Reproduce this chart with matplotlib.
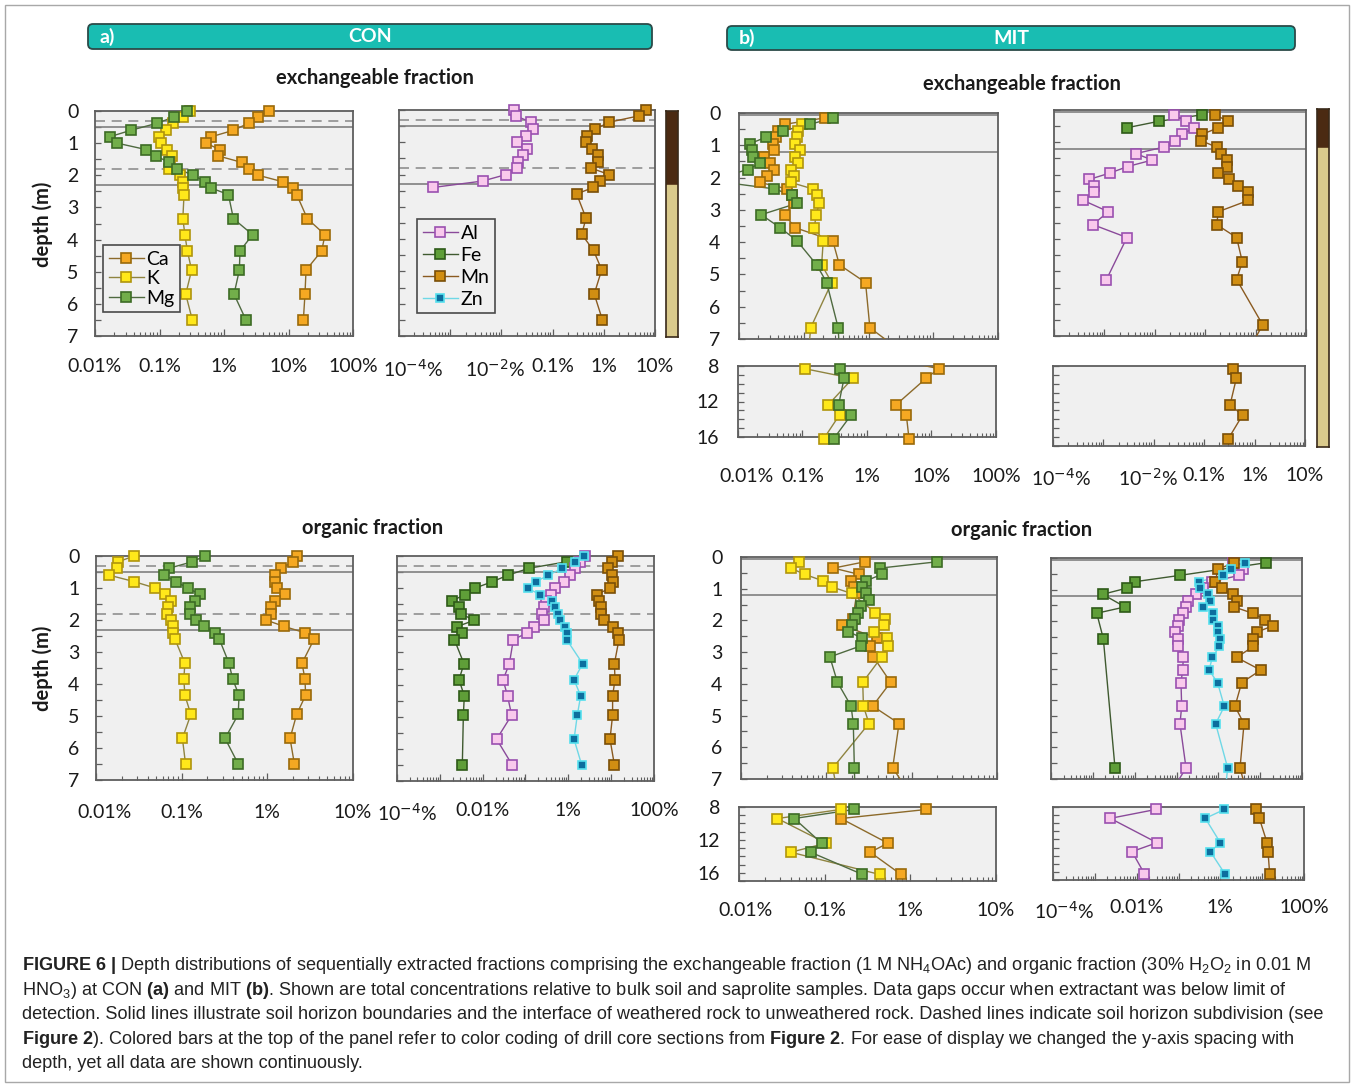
import numpy as np
import matplotlib
matplotlib.use("Agg")
import matplotlib.pyplot as plt
import matplotlib.ticker as mtick
from matplotlib import font_manager
from matplotlib.lines import Line2D
from matplotlib.patches import FancyBboxPatch, Rectangle
from matplotlib.transforms import IdentityTransform, ScaledTranslation

nan = np.nan

# ---- sample depths (m) ----
con_depth = [0.0, 0.18, 0.38, 0.6, 0.8, 1.0, 1.2, 1.4, 1.6, 1.8, 2.0, 2.2, 2.4, 2.6,
             3.35, 3.85, 4.35, 4.95, 5.7, 6.5]
mit_depth = [0.15, 0.35, 0.55, 0.75, 0.95, 1.15, 1.35, 1.55, 1.75, 1.95, 2.15, 2.35, 2.55,
             2.8, 3.15, 3.55, 3.95, 4.7, 5.25, 6.65, 8.3, 9.4, 12.4, 13.5, 16.2]

# ---- CON exchangeable fraction (% of bulk) ----
con_ex_ca = [4.9, 3.4, 2.4, 1.4, 0.64, 0.52, 0.87, 0.82, 1.9, 2.4, 3.4, 8.1, 11.6, 13.4,
             19.6, 36.8, 32.7, 18.7, 18.0, 17.0]
con_ex_k = [0.30, 0.23, 0.16, 0.126, 0.099, 0.105, 0.132, 0.154, 0.146, 0.142, 0.208, 0.234,
            0.234, 0.24, 0.23, 0.248, 0.27, 0.315, 0.255, 0.323]
con_ex_mg = [0.264, 0.17, 0.092, 0.036, 0.017, 0.022, 0.062, 0.088, 0.142, 0.189, 0.335, 0.51,
             0.64, 1.17, 1.40, 2.78, 1.77, 1.73, 1.43, 2.19]
con_ex_al = [0.018, 0.019, 0.038, 0.042, 0.030, 0.020, 0.031, 0.026, 0.021, 0.020, 0.0123,
             0.0043, 0.00046, nan, nan, nan, nan, nan, nan, nan]
con_ex_mn = [6.7, 4.9, 1.26, 0.67, 0.48, 0.44, 0.60, 0.78, 0.78, 0.56, 1.28, 0.84, 0.62,
             0.295, 0.45, 0.37, 0.63, 0.91, 0.65, 0.94]

# ---- CON organic fraction ----
con_or_ca = [2.24, 1.98, 1.43, 1.23, 1.23, 1.29, 1.61, 1.23, 1.09, 1.09, 0.96, 1.57, 2.75,
             3.51, 2.54, 2.75, 2.80, 2.20, 1.84, 2.07]
con_or_k = [0.0278, 0.0182, 0.0177, 0.0143, 0.0278, 0.0489, 0.0639, 0.0744, 0.070, 0.0668,
            0.0744, 0.080, 0.080, 0.0836, 0.109, 0.106, 0.109, 0.128, 0.102, 0.111]
con_or_mg = [0.187, 0.133, 0.0718, 0.0628, 0.0859, 0.1175, 0.164, 0.143, 0.125, 0.125, 0.146,
             0.182, 0.245, 0.275, 0.357, 0.394, 0.467, 0.458, 0.321, 0.458]
con_or_al = [2.4, 1.9, 1.4, 1.1, 0.79, 0.49, 0.39, 0.30, 0.275, 0.24, 0.275, 0.16, 0.106,
             0.052, 0.042, 0.030, 0.038, 0.0475, 0.0212, 0.049]
con_or_fe = [nan, 0.914, 0.121, 0.0384, 0.0168, 0.0066, 0.00387, 0.00189, 0.0028, 0.00312,
             0.00638, 0.00247, 0.00335, 0.00218, 0.00366, 0.0028, 0.00373, 0.00354, nan, 0.00335]
con_or_mn = [14.2, 10.3, 8.3, 10.6, 10.8, 9.4, 4.58, 5.2, 5.8, 5.8, 6.9, 10.8, 14.7, 15.2,
             11.9, 12.3, 10.8, 10.8, 9.4, 11.9]
con_or_zn = [2.32, 1.43, 0.724, 0.341, 0.173, 0.112, 0.218, 0.408, 0.489, 0.585, 0.638, 0.836,
             0.914, 0.914, 2.16, 1.36, 1.94, 1.62, 1.36, 2.05]

# ---- MIT exchangeable fraction ----
mit_ex_ca = [0.213, 0.051, 0.040, 0.037, 0.034, 0.035, 0.024, 0.030, 0.035, 0.027, 0.021,
             0.055, 0.065, 0.07, 0.051, 0.073, 0.28, 0.355, 0.90, 1.05, 13.0, 8.2, 2.79, 4.07, 4.48]
mit_ex_k = [nan, 0.093, 0.082, 0.080, 0.072, 0.086, 0.073, 0.082, 0.063, 0.071, 0.063, 0.137,
            0.158, 0.174, 0.155, 0.146, 0.20, 0.189, 0.27, 0.128, 0.108, 0.60, 0.248, 0.376, 0.213]
mit_ex_mg = [0.286, 0.125, 0.048, 0.026, 0.0148, 0.0161, 0.0163, 0.021, 0.0139, 0.006, 0.006,
             0.035, 0.067, 0.078, 0.022, 0.043, 0.078, 0.158, 0.226, 0.34, 0.376, 0.44, 0.363,
             0.57, 0.304]
mit_ex_al = [0.024, 0.042, 0.060, 0.035, 0.025, 0.015, 0.0042, 0.0089, 0.0029, 0.0013, 0.0005,
             0.00062, 0.00062, 0.00038, 0.0012, 0.00059, 0.0028, nan, 0.0011, nan, nan, nan,
             nan, nan, nan]
mit_ex_fe = [0.085, 0.012, 0.0028] + [nan] * 22
mit_ex_mn = [0.156, 0.288, 0.182, 0.0878, 0.0826, 0.169, 0.203, 0.267, 0.267, 0.177, 0.30,
             0.454, 0.717, 0.717, 0.182, 0.169, 0.42, 0.545, 0.42, 1.38, 0.372, 0.434, 0.325,
             0.58, 0.30]

# ---- MIT organic fraction ----
mit_or_ca = [0.284, 0.121, 0.244, 0.193, 0.211, 0.227, nan, nan, nan, 0.204, 0.151, nan, 0.389,
             0.325, 0.356, nan, 0.567, 0.349, 0.711, 0.599, 1.54, 0.155, 0.547, 0.34, 0.778]
mit_or_k = [0.0483, 0.0382, 0.0562, 0.0906, 0.1175, 0.198, nan, nan, 0.372, 0.486, 0.478, 0.362,
            0.519, 0.533, 0.445, nan, 0.267, 0.272, 0.316, 0.119, 0.154, 0.0281, 0.104, 0.0403,
            0.437]
mit_or_mg = [2.0, 0.426, 0.445, 0.292, 0.259, 0.289, 0.319, 0.252, 0.237, 0.217, 0.198, 0.181,
             0.259, 0.255, 0.11, nan, 0.135, 0.195, 0.207, 0.213, 0.221, 0.0442, 0.0922, 0.0686,
             0.276]
mit_or_al = [2.29, 3.96, 3.18, 0.693, 0.438, 0.292, 0.192, 0.169, 0.146, 0.115, 0.107, 0.092,
             0.111, 0.111, 0.146, 0.140, 0.128, 0.133, 0.121, 0.169, 0.029, 0.00234, 0.0306,
             0.00773, 0.0152]
mit_or_fe = [13.8, nan, 0.121, 0.0102, 0.00668, 0.00172, nan, 0.00587, 0.00124, nan, nan, nan,
             0.00178, nan, nan, nan, nan, nan, nan, 0.00339, nan, nan, nan, nan, nan]
mit_or_mn = [2.37, 1.0, nan, 0.83, 1.20, 2.20, 2.74, 2.37, 6.6, 13.1, 19.9, 8.24, 6.6, 6.87,
             2.74, 10.3, 3.61, 2.50, 4.11, 3.30, 7.13, 8.56, 13.1, 13.8, 15.1]
mit_or_zn = [4.33, 1.97, 1.27, 0.352, 0.365, 0.577, 0.633, 0.438, 0.759, 0.759, 0.96, 1.0, 1.10,
             1.06, 0.72, 0.60, 0.96, 1.39, 0.863, 1.67, 1.25, 0.438, 1.0, 0.577, 1.27]

# horizon boundaries (m)
con_solid = [0.5, 2.3]
con_dashed = [0.3, 1.8]
mit_solid = [0.07, 1.2]

lab_a = ["0.01%", "0.1%", "1%", "10%", "100%"]
lab_b = ["10$^{-4}$%", "", "10$^{-2}$%", "0.1%", "1%", "10%"]
lab_c = ["0.01%", "0.1%", "1%", "10%"]
lab_d = ["10$^{-4}$%", "", "0.01%", "", "1%", "", "100%"]

styles = {
    "Ca": dict(mfc="#F5A822", mec="#9A6A0A", lc="#8C6A2A", ms=7.2),
    "K": dict(mfc="#FFE81A", mec="#B0950C", lc="#8F8440", ms=7.2),
    "Mg": dict(mfc="#72AE4A", mec="#3D6B25", lc="#4F6A40", ms=7.2),
    "Al": dict(mfc="#F9C9EC", mec="#9A50B0", lc="#8A4A9A", ms=7.2),
    "Fe": dict(mfc="#5F9E38", mec="#2E5A18", lc="#3F5A30", ms=7.2),
    "Mn": dict(mfc="#D18E12", mec="#7A4F08", lc="#8A5A20", ms=7.2),
    "Zn": dict(mfc="#0D6E9E", mec="#55E0EE", lc="#6FD8E6", ms=6.4),
}

W, H = 1355, 1085
installed = {f.name for f in font_manager.fontManager.ttflist}
if "Liberation Sans Narrow" in installed:
    cap_font, cap_size = "Liberation Sans Narrow", 13.3
else:
    cap_font, cap_size = "Liberation Sans", 13.1

plt.rcParams["font.family"] = ["Lato", "DejaVu Sans"]
plt.rcParams["mathtext.rm"] = cap_font
plt.rcParams["mathtext.bf"] = cap_font + ":bold"
plt.rcParams["mathtext.it"] = cap_font + ":italic"

fig = plt.figure(figsize=(W / 100, H / 100), dpi=100)


def add_ax(x0, y0, x1, y1):
    return fig.add_axes([x0 / W, 1 - y1 / H, (x1 - x0) / W, (y1 - y0) / H])


def panel(box, xlim, ylim, xlabels=None, ylabels=True, deep=False, xpad=15, ypad=12,
          label_dx=None):
    ax = add_ax(*box)
    ax.set_facecolor("#F0F0F0")
    ax.set_xscale("log")
    ax.set_xlim(*xlim)
    ax.set_ylim(*ylim)
    for sp in ax.spines.values():
        sp.set_color("#5E5E5E")
        sp.set_linewidth(1.3)
    decades = 10.0 ** np.arange(round(np.log10(xlim[0])), round(np.log10(xlim[1])) + 1)
    ax.set_xticks(decades)
    ax.set_xticklabels(xlabels if xlabels else [""] * len(decades))
    ax.xaxis.set_minor_locator(mtick.LogLocator(base=10, subs=np.arange(2, 10), numticks=40))
    ax.xaxis.set_minor_formatter(mtick.NullFormatter())
    if deep:
        ax.yaxis.set_major_locator(mtick.FixedLocator(np.arange(8, int(ylim[0]) + 1)))
        ax.yaxis.set_major_formatter(
            mtick.FuncFormatter(lambda v, p: f"{v:.0f}" if v in (8, 12, 16) else ""))
    else:
        ax.yaxis.set_major_locator(mtick.MultipleLocator(1))
        ax.yaxis.set_minor_locator(mtick.MultipleLocator(0.5))
    ax.tick_params(axis="x", which="major", direction="in", length=5, width=0.9,
                   color="#5E5E5E", pad=xpad, labelsize=14, labelcolor="#1A1A1A")
    ax.tick_params(axis="x", which="minor", direction="in", length=3, width=0.8,
                   color="#5E5E5E")
    ax.tick_params(axis="y", which="both", direction="in", length=4, width=0.9,
                   color="#5E5E5E", pad=ypad, labelsize=14, labelcolor="#1A1A1A",
                   labelleft=ylabels)
    # nudge single tick labels sideways, as they sit in the original
    labs = ax.get_xticklabels()
    for i, dx in (label_dx or {}).items():
        labs[i].set_transform(labs[i].get_transform()
                              + ScaledTranslation(dx / 100, 0, fig.dpi_scale_trans))
    return ax


def draw(ax, depth, values, el):
    st = styles[el]
    d = np.asarray(depth, float)
    v = np.asarray(values, float)
    ok = ~np.isnan(v)
    ax.plot(v[ok], d[ok], color=st["lc"], lw=1.0, zorder=3)
    lo, hi = sorted(ax.get_ylim())
    x0, x1 = ax.get_xlim()
    vis = ok & (d >= lo - 0.3) & (d <= hi + 0.3) & (v >= x0) & (v <= x1)
    ax.plot(v[vis], d[vis], ls="none", marker="s", ms=st["ms"], mfc=st["mfc"],
            mec=st["mec"], mew=1.2, clip_on=False, zorder=4)


def horizons(ax, solid, dashed=()):
    for y in solid:
        ax.axhline(y, color="#808080", lw=1.2, zorder=2)
    for y in dashed:
        ax.axhline(y, color="#8F8F8F", lw=1.2, ls=(0, (6, 4)), zorder=2)


def legend(ax, els, anchor, spacing):
    hs = [Line2D([], [], color=styles[e]["lc"], lw=1, marker="s", ms=styles[e]["ms"],
                 mfc=styles[e]["mfc"], mec=styles[e]["mec"], mew=1.2) for e in els]
    lg = ax.legend(hs, els, loc="lower left", bbox_to_anchor=anchor, frameon=True,
                   fancybox=False, framealpha=1, edgecolor="#4A4A4A", facecolor="#F0F0F0",
                   fontsize=14, handlelength=1.8, handletextpad=0.15, borderpad=0.3,
                   labelspacing=spacing, borderaxespad=0)
    lg.get_frame().set_linewidth(1.2)
    lg.set_zorder(6)


def depth_bar(box, dark_frac):
    bx = add_ax(*box)
    bx.set_xlim(0, 1)
    bx.set_ylim(1, 0)
    bx.axhspan(0, dark_frac, color="#4B2A12")
    bx.axhspan(dark_frac, 1, color="#DACA8C")
    bx.set_xticks([])
    bx.set_yticks([])
    for sp in bx.spines.values():
        sp.set_color("#3A2A1A")
        sp.set_linewidth(1.2)


def header(x0, y0, x1, y1, tag, name):
    box = FancyBboxPatch((x0, H - y1), x1 - x0, y1 - y0,
                         boxstyle="round,pad=0,rounding_size=5",
                         transform=IdentityTransform(), fc="#19BDB2", ec="#2B4A48", lw=1.3)
    fig.add_artist(box)
    yc = 1 - (y0 + y1) / 2 / H
    fig.text((x0 + 12) / W, yc, tag, color="white", fontsize=14, weight="bold",
             ha="left", va="center")
    fig.text((x0 + x1) / 2 / W, yc, name, color="white", fontsize=14, weight="bold",
             ha="center", va="center")


def ftext(x, y, s, **kw):
    fig.text(x / W, 1 - y / H, s, **kw)


# outer frame
fig.add_artist(Rectangle((5, 3), 1344, 1077, fill=False, ec="#A8A8A8", lw=1,
                         transform=IdentityTransform()))

header(88, 24, 652, 49, "a)", "CON")
header(727, 26, 1295, 50, "b)", "MIT")

title_kw = dict(fontsize=14.5, weight="bold", ha="center", va="center", color="#1A1A1A")
ftext(375, 78, "exchangeable fraction", **title_kw)
ftext(1022, 84, "exchangeable fraction", **title_kw)
ftext(373, 528, "organic fraction", **title_kw)
ftext(1022, 530, "organic fraction", **title_kw)
ftext(43, 224, "depth (m)", fontsize=14.5, weight="bold", rotation=90, ha="center",
      va="center", color="#1A1A1A")
ftext(43, 668, "depth (m)", fontsize=14.5, weight="bold", rotation=90, ha="center",
      va="center", color="#1A1A1A")

# ---- a) CON exchangeable ----
ax = panel((95, 111, 353, 336), (0.01, 100), (7, 0), lab_a, xpad=16)
horizons(ax, con_solid, con_dashed)
draw(ax, con_depth, con_ex_ca, "Ca")
draw(ax, con_depth, con_ex_k, "K")
draw(ax, con_depth, con_ex_mg, "Mg")
legend(ax, ["Ca", "K", "Mg"], (0.03, 0.105), 0.12)

ax = panel((399, 110, 655, 336), (1e-4, 10), (7, 0), lab_b, ylabels=False, xpad=16,
           label_dx={0: 14, 2: -6})
horizons(ax, con_solid, con_dashed)
draw(ax, con_depth, con_ex_al, "Al")
draw(ax, con_depth, con_ex_mn, "Mn")
legend(ax, ["Al", "Fe", "Mn", "Zn"], (0.07, 0.10), 0.25)
depth_bar((666, 111, 678, 337), con_solid[1] / 7)

# ---- a) CON organic ----
ax = panel((96, 556, 353, 780), (0.01, 10), (7, 0), lab_c, xpad=17, label_dx={0: 8})
horizons(ax, con_solid, con_dashed)
draw(ax, con_depth, con_or_ca, "Ca")
draw(ax, con_depth, con_or_k, "K")
draw(ax, con_depth, con_or_mg, "Mg")

ax = panel((397, 556, 654, 781), (1e-4, 100), (7, 0), lab_d, ylabels=False, xpad=15,
           label_dx={0: 10})
horizons(ax, con_solid, con_dashed)
draw(ax, con_depth, con_or_fe, "Fe")
draw(ax, con_depth, con_or_al, "Al")
draw(ax, con_depth, con_or_mn, "Mn")
draw(ax, con_depth, con_or_zn, "Zn")

# ---- b) MIT exchangeable ----
for box, ylim, labs, deep, pad in [((739, 113, 998, 339), (7, 0), None, False, 15),
                                   ((738, 366, 996, 437), (16, 8), lab_a, True, 22)]:
    ax = panel(box, (0.01, 100), ylim, labs, deep=deep, xpad=pad, ypad=13.5,
               label_dx={0: 9} if deep else None)
    if not deep:
        horizons(ax, mit_solid)
    draw(ax, mit_depth, mit_ex_ca, "Ca")
    draw(ax, mit_depth, mit_ex_k, "K")
    draw(ax, mit_depth, mit_ex_mg, "Mg")

for box, ylim, labs, deep, pad in [((1054, 110, 1306, 336), (7, 0), None, False, 15),
                                   ((1053, 366, 1305, 446), (17, 8), lab_b, True, 15)]:
    ax = panel(box, (1e-4, 10), ylim, labs, ylabels=False, deep=deep, xpad=pad,
               label_dx={0: 8, 2: -6} if deep else None)
    if not deep:
        horizons(ax, mit_solid)
    draw(ax, mit_depth, mit_ex_al, "Al")
    draw(ax, mit_depth, mit_ex_fe, "Fe")
    draw(ax, mit_depth, mit_ex_mn, "Mn")
depth_bar((1317, 109, 1329, 447), (148 - 109) / (447 - 109))

# ---- b) MIT organic ----
for box, ylim, labs, deep, pad in [((741, 557, 997, 779), (7, 0), None, False, 15),
                                   ((739, 807, 996, 881), (17, 8), lab_c, True, 15)]:
    ax = panel(box, (0.01, 10), ylim, labs, deep=deep, xpad=pad, ypad=13.5,
               label_dx={0: 6} if deep else None)
    if not deep:
        horizons(ax, mit_solid)
    draw(ax, mit_depth, mit_or_ca, "Ca")
    draw(ax, mit_depth, mit_or_k, "K")
    draw(ax, mit_depth, mit_or_mg, "Mg")

for box, ylim, labs, deep, pad in [((1051, 558, 1302, 779), (7, 0), None, False, 15),
                                   ((1053, 807, 1304, 880), (17, 8), lab_d, True, 14)]:
    ax = panel(box, (1e-4, 100), ylim, labs, ylabels=False, deep=deep, xpad=pad,
               label_dx={0: 11} if deep else None)
    if not deep:
        horizons(ax, mit_solid)
    draw(ax, mit_depth, mit_or_fe, "Fe")
    draw(ax, mit_depth, mit_or_al, "Al")
    draw(ax, mit_depth, mit_or_mn, "Mn")
    draw(ax, mit_depth, mit_or_zn, "Zn")

# ---- caption ----
caption = [
    r"$\mathbf{FIGURE\ 6\ |}$ Depth distributions of sequentially extracted fractions comprising "
    r"the exchangeable fraction (1 M NH$_4$OAc) and organic fraction (30% H$_2$O$_2$ in 0.01 M",
    r"HNO$_3$) at CON $\mathbf{(a)}$ and MIT $\mathbf{(b)}$. Shown are total concentrations "
    r"relative to bulk soil and saprolite samples. Data gaps occur when extractant was below limit of",
    "detection. Solid lines illustrate soil horizon boundaries and the interface of weathered rock "
    "to unweathered rock. Dashed lines indicate soil horizon subdivision (see",
    r"$\mathbf{Figure\ 2}$). Colored bars at the top of the panel refer to color coding of drill "
    r"core sections from $\mathbf{Figure\ 2}$. For ease of display we changed the y-axis spacing with",
    "depth, yet all data are shown continuously.",
]
for i, line in enumerate(caption):
    ftext(22, 970 + i * 24.6, line, family=cap_font, fontsize=cap_size, color="#222222",
          ha="left", va="baseline", math_fontfamily="custom")

fig.savefig("out.png", dpi=100)
